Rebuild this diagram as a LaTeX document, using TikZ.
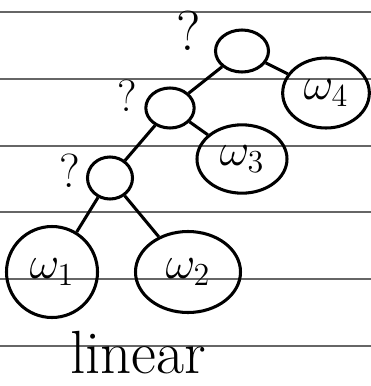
\documentclass[tikz,border=0pt]{standalone}
\usetikzlibrary{shapes.geometric}
\newcommand{\wlabel}[1]{\scalebox{1.9}{\huge$\omega_{#1}$}}
\tikzset{
  inner/.style={ellipse, draw, line width=2.6pt, inner sep=0pt},
  leaf/.style={ellipse, draw, line width=2.6pt, inner sep=0pt},
  edge/.style={line width=2.6pt},
  ask/.style={font=\fontsize{48}{52}\selectfont}
}
\begin{document}
\begin{tikzpicture}[x=0.03cm, y=-0.03cm]
    \useasboundingbox (0,0) rectangle (371,386);
    % Ruled paper
    \foreach \yy in {12,79,146,212,279,346}
        \draw[black!60, line width=0.9pt] (0,\yy) -- (371,\yy);
    
    % Internal nodes
    \node[inner, minimum width=1.59cm, minimum height=1.26cm] (r) at (242,51) {};
    \node[inner, minimum width=1.45cm, minimum height=1.2cm] (a) at (170,108) {};
    \node[inner, minimum width=1.35cm, minimum height=1.26cm] (b) at (110,178) {};
    
    % Leaves
    \node[leaf, minimum width=2.6cm, minimum height=2.1cm] (w4) at (326,93) {\wlabel{4}};
    \node[leaf, minimum width=2.7cm, minimum height=2.05cm] (w3) at (242,159) {\wlabel{3}};
    \node[leaf, minimum width=2.73cm, minimum height=2.73cm] (w1) at (52,272) {\wlabel{1}};
    \node[leaf, minimum width=3.15cm, minimum height=2.43cm] (w2) at (188,272) {\wlabel{2}};
    
    % Branches
    \draw[edge] (r) -- (a);
    \draw[edge] (r) -- (w4);
    \draw[edge] (a) -- (w3);
    \draw[edge] (a) -- (b);
    \draw[edge] (b) -- (w1);
    \draw[edge] (b) -- (w2);
    
    % Question marks
    \node[ask] (q1) at (189,31) {?};
    \node[ask, scale=0.8] (q2) at (127,96) {?};
    \node[ask, scale=0.85] (q3) at (70,171) {?};
    
    % Label
    \node[anchor=base, inner sep=0pt, font=\fontsize{52}{56}\selectfont] (lin) at (138,373) {linear};
\end{tikzpicture}
\end{document}
